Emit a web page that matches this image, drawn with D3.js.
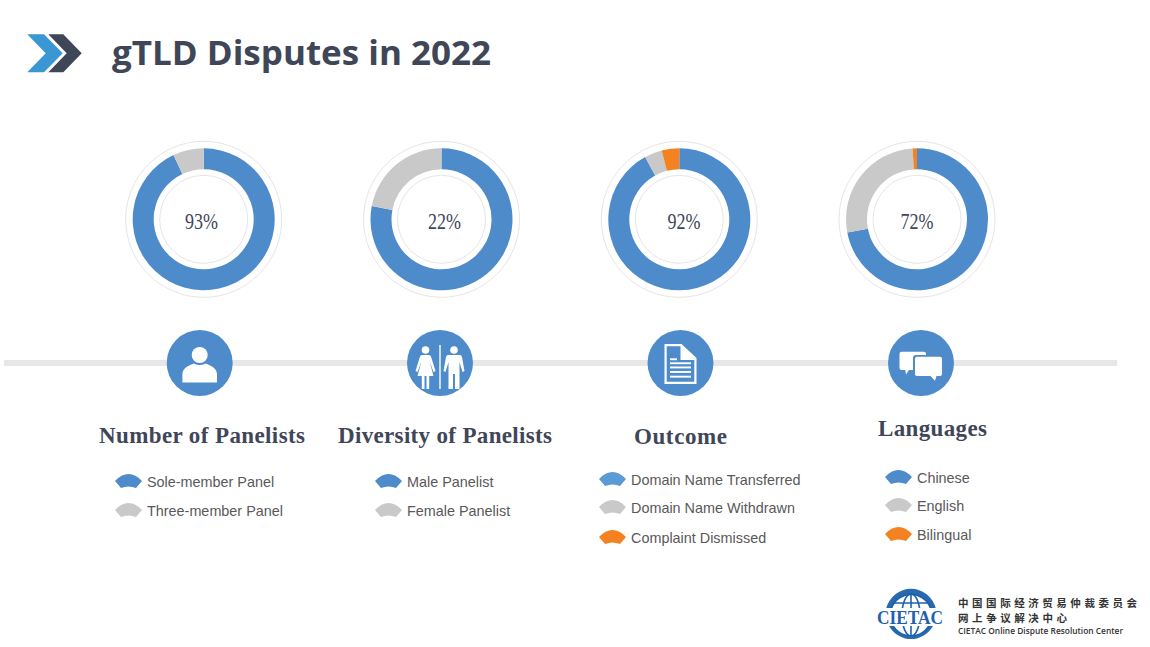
<!DOCTYPE html>
<html><head><meta charset="utf-8">
<script src="https://cdnjs.cloudflare.com/ajax/libs/d3/7.8.5/d3.min.js"></script>
<style>html,body{margin:0;padding:0;background:#fff;overflow:hidden}svg{display:block}</style>
</head><body><svg id="c" width="1150" height="647" role="img" aria-label="gTLD Disputes in 2022"></svg>
<script>
// ---- data ----
const chartTitle = "gTLD Disputes in 2022";
const sections = ["Number of Panelists","Diversity of Panelists","Outcome","Languages"];
const centerLabels = ["93%","22%","92%","72%"];
const panelNumberValues = [93,7];
const panelDiversityValues = [78,22];
const outcomeValues = [92,4,4];
const languageValues = [72,27,1];
const panelNumberLabels = ["Sole-member Panel","Three-member Panel"];
const panelDiversityLabels = ["Male Panelist","Female Panelist"];
const outcomeLabels = ["Domain Name Transferred","Domain Name Withdrawn","Complaint Dismissed"];
const languageLabels = ["Chinese","English","Bilingual"];
const seriesColors = ["#4e8bcb","#c9c9c9","#f58220"];

// ---- layout ----
const donutX = [203.7,441.5,679.3,917];
const centerTextX = [201.5,444.5,684,917];
const iconX = [199.7,440,680.5,921];
const titleLayout = [[99,443,206],[338,443,214],[634,444,93],[878,436,109]];
const legendLayout = [[147,[487,516]],[407,[487,516]],[631,[485,513,543]],[917,[483,511,540]]];
const donutY = 219.3, iconY = 363, ink = "#3f4658";

const svg = d3.select("#c");
const allValues = [panelNumberValues,panelDiversityValues,outcomeValues,languageValues];
const allLabels = [panelNumberLabels,panelDiversityLabels,outcomeLabels,languageLabels];

// header chevrons
svg.append("path").attr("fill","#3a97d4").attr("d","M27.3,34.3H44L62.7,53.3L44,72.3H27.3L45.7,53.3Z");
svg.append("path").attr("fill","#3f4658").attr("d","M48.3,34.3H63.3L81.7,53.3L63.3,72.3H48.3L66.7,53.3Z");
svg.append("text").text(chartTitle).attr("x",112).attr("y",65)
  .attr("font-family","'Open Sans',sans-serif").attr("font-weight",700).attr("font-size",34)
  .attr("textLength",379).attr("lengthAdjust","spacingAndGlyphs").attr("fill",ink);

// timeline bar
svg.append("rect").attr("x",4).attr("y",360).attr("width",1113).attr("height",6).attr("fill","#e7e7e7");

// donuts
const pie = d3.pie().sort(null);
const arc = d3.arc().innerRadius(50).outerRadius(71);
allValues.forEach((vals,i)=>{
  const g = svg.append("g").attr("transform",`translate(${donutX[i]},${donutY})`);
  [78,44].forEach(r=>g.append("circle").attr("r",r).attr("fill","none").attr("stroke","#dedede").attr("stroke-width",0.8));
  g.selectAll("path.s").data(pie(vals)).join("path").attr("class","s")
    .attr("d",arc).attr("fill",(d,k)=>seriesColors[k]);
  svg.append("text").text(centerLabels[i]).attr("x",centerTextX[i]-16.5).attr("y",donutY+10)
    .attr("font-family","'Liberation Serif',serif").attr("font-size",23).attr("fill",ink)
    .attr("textLength",33).attr("lengthAdjust","spacingAndGlyphs");
});

// icons
const iconBlue = "#4e8bcb";
function iconBase(i){
  const g = svg.append("g").attr("transform",`translate(${iconX[i]},${iconY})`);
  g.append("circle").attr("r",33).attr("fill",iconBlue);
  return g.append("g").attr("fill","#fff");
}
let ic = iconBase(0);
ic.append("circle").attr("cx",0).attr("cy",-8).attr("r",8);
ic.append("path").attr("d","M-17.3,19.5V11C-17.3,5 -10,2 -6,0.5Q0,3.5 6,0.5C10,2 17.3,5 17.3,11V19.5Z");

ic = iconBase(1);
ic.append("rect").attr("x",-0.7).attr("y",-18).attr("width",1.4).attr("height",44);
function female(g){
  g.append("circle").attr("cx",0).attr("cy",-13).attr("r",3.8);
  g.append("path").attr("d","M-3.5,-8H3.5Q5,-8 5.5,-6.5L10,8L8,9L4,-2L8,13H3.7V26H1V13H-1V26H-3.7V13H-8L-4,-2L-8,9L-10,8L-5.5,-6.5Q-5,-8 -3.5,-8Z");
}
function male(g){
  g.append("circle").attr("cx",0).attr("cy",-13).attr("r",3.8);
  g.append("path").attr("d","M-6,-8H6Q7.5,-8 8,-6L10.5,8L8.5,9L5.5,-1V26H1V11H-1V26H-5.5V-1L-8.5,9L-10.5,8L-8,-6Q-7.5,-8 -6,-8Z");
}
female(ic.append("g").attr("transform","translate(-14.5,0)"));
male(ic.append("g").attr("transform","translate(14,0)"));

ic = iconBase(2);
ic.append("path").attr("fill-rule","evenodd").attr("d","M-16,-19H1L16,-5V21H-16ZM-13.8,-16.8V18.8H13.8V-3H0V-16.8Z");
ic.append("path").attr("d","M3,-15L12.5,-5.5H3Z");
[[-10.5,-4.7,7],[-10.5,-0.7,21],[-10.5,3.5,21],[-10.5,8,21],[-10.5,12.7,21]].forEach(b=>
  ic.append("rect").attr("x",b[0]).attr("y",b[1]).attr("width",b[2]).attr("height",1.9));

ic = iconBase(3);
ic.append("path").attr("d","M-19.5,-11.3H3Q5,-11.3 5,-9.3V7H-12L-15,11.5L-15.8,7H-19.5Q-21.5,7 -21.5,5V-9.3Q-21.5,-11.3 -19.5,-11.3Z");
ic.append("path").attr("fill",iconBlue).attr("d","M-5,-8H20Q23,-8 23,-5V12Q23,15 20,15H-5Q-8,15 -8,12V-5Q-8,-8 -5,-8Z");
ic.append("path").attr("d","M-4,-6.3H19Q21,-6.3 21,-4.3V11Q21,13 19,13H15.5L14,17.7L9.5,13H-4Q-6,13 -6,11V-4.3Q-6,-6.3 -4,-6.3Z");

// section titles and legends
const legendFan = "M-13.5,0Q-7,-7 0,-7Q7,-7 13.5,0L7.5,7Q0,4 -7.5,7Z";
sections.forEach((t,i)=>{
  const [x,y,w] = titleLayout[i];
  svg.append("text").text(t).attr("x",x).attr("y",y)
    .attr("font-family","'Liberation Serif',serif").attr("font-weight",700).attr("font-size",23)
    .attr("textLength",w).attr("lengthAdjust","spacing").attr("fill",ink);
  const [lx,ys] = legendLayout[i];
  allLabels[i].forEach((lab,k)=>{
    const c = (i===2 && k===0) ? "#5b9bd5" : seriesColors[k];
    svg.append("path").attr("d",legendFan).attr("fill",c).attr("transform",`translate(${lx-18.5},${ys[k]-6})`);
    svg.append("text").text(lab).attr("x",lx).attr("y",ys[k])
      .attr("font-family","'Liberation Sans',Arial,sans-serif").attr("font-size",14.4).attr("fill","#595959");
  });
});

// organisation mark
const lg = svg.append("g").attr("transform","translate(911,616)");
const lb = "#1e62ab";
lg.append("path").attr("fill",lb).attr("d","M-25,-7A26,28 0 0 1 25,-7H19A20,20 0 0 0 -19,-7Z").attr("opacity",0.95);
lg.append("path").attr("fill",lb).attr("d","M-22,10A26,28 0 0 0 22,10L17,10A19,19 0 0 1 -17,10Z").attr("opacity",0.95);
const gl = lg.append("g").attr("fill","none").attr("stroke",lb).attr("stroke-width",1.6);
gl.append("circle").attr("cy",-1).attr("r",21);
gl.append("ellipse").attr("cy",-1).attr("rx",9).attr("ry",21);
gl.append("line").attr("x1",0).attr("x2",0).attr("y1",-22).attr("y2",20);
gl.append("line").attr("x1",-18).attr("x2",18).attr("y1",-13).attr("y2",-13);
lg.append("rect").attr("x",-35).attr("y",-8).attr("width",70).attr("height",18).attr("fill","#fff");
lg.append("text").text("CIETAC").attr("x",-34).attr("y",8)
  .attr("font-family","'Liberation Serif',serif").attr("font-weight",700).attr("font-size",19.5).attr("fill",lb)
  .attr("textLength",66).attr("lengthAdjust","spacingAndGlyphs");
const cjk = "'Noto Sans CJK SC',sans-serif";
svg.append("text").text("中国国际经济贸易仲裁委员会").attr("x",958).attr("y",607)
  .attr("font-family",cjk).attr("font-weight",700).attr("font-size",10.5).attr("fill","#333")
  .attr("textLength",179);
svg.append("text").text("网上争议解决中心").attr("x",958).attr("y",622)
  .attr("font-family",cjk).attr("font-weight",700).attr("font-size",10.5).attr("fill","#333")
  .attr("textLength",109);
svg.append("text").text("CIETAC Online Dispute Resolution Center").attr("x",958).attr("y",634)
  .attr("font-family","'Open Sans',sans-serif").attr("font-weight",600).attr("font-size",8.3).attr("fill","#333")
  .attr("textLength",165).attr("lengthAdjust","spacingAndGlyphs");
</script></body></html>
